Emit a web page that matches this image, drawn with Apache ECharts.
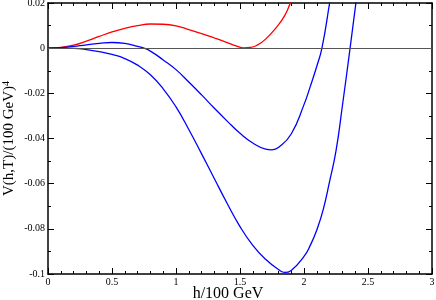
<!DOCTYPE html>
<html>
<head>
<meta charset="utf-8">
<script src="https://cdn.jsdelivr.net/npm/echarts@6/dist/echarts.min.js"></script>
<style>
html,body{margin:0;padding:0;background:#fff;}
#chart{width:436px;height:300px;}
</style>
</head>
<body>
<div id="chart"></div>
<script>
// Data
var redX   = [0, 0.1, 0.2, 0.3, 0.4, 0.5, 0.6, 0.7, 0.8, 0.9, 1.0, 1.1, 1.2, 1.3, 1.4, 1.47, 1.53, 1.58, 1.63, 1.7, 1.8, 1.85, 1.89, 1.9];
var redY   = [0, 0.0003, 0.0013, 0.0031, 0.0052, 0.0072, 0.0088, 0.0100, 0.0107, 0.0106, 0.0099, 0.0082, 0.0064, 0.0045, 0.0025, 0.0010, 0.0001, 0.0003, 0.0012, 0.0040, 0.0103, 0.0145, 0.0195, 0.021];

var blue1X = [0, 0.1, 0.2, 0.3, 0.4, 0.5, 0.6, 0.7, 0.75, 0.8, 0.9, 1.0, 1.1, 1.2, 1.3, 1.4, 1.5, 1.6, 1.7, 1.75, 1.8, 1.9, 2.0, 2.05, 2.1, 2.14, 2.2, 2.21];
var blue1Y = [0, 0.0002, 0.0008, 0.0015, 0.0021, 0.0025, 0.0021, 0.0008, 0, -0.0013, -0.0052, -0.0095, -0.0150, -0.0207, -0.0266, -0.0323, -0.0377, -0.0420, -0.0447, -0.0450, -0.0440, -0.0380, -0.0250, -0.0168, -0.0080, 0, 0.0200, 0.0240];

var blue2X = [0, 0.1, 0.2, 0.3, 0.4, 0.5, 0.6, 0.7, 0.8, 0.9, 1.0, 1.1, 1.2, 1.3, 1.4, 1.5, 1.6, 1.7, 1.8, 1.85, 1.9, 2.0, 2.05, 2.1, 2.15, 2.2, 2.25, 2.3, 2.36, 2.41];
var blue2Y = [0, 0, -0.0001, -0.0006, -0.0015, -0.0028, -0.0046, -0.0075, -0.0118, -0.0180, -0.0260, -0.0360, -0.0468, -0.0578, -0.0688, -0.0790, -0.0873, -0.0935, -0.0980, -0.0993, -0.0984, -0.0922, -0.0872, -0.0805, -0.0715, -0.0590, -0.0455, -0.0255, 0, 0.0220];

var xTicks = {min: 0, max: 3, interval: 0.5};
var yTicks = {min: -0.1, max: 0.02, interval: 0.02};

function pairs(xs, ys) { return xs.map(function (x, i) { return [x, ys[i]]; }); }

var FONT = 'Liberation Serif';
var axisLine = {show: true, onZero: false, lineStyle: {color: '#000', width: 1.5}};
var tick = {show: true, inside: true, length: 6, lineStyle: {color: '#000', width: 1}};

var chart = echarts.init(document.getElementById('chart'), null, {renderer: 'canvas'});
chart.setOption({
  animation: false,
  backgroundColor: '#fff',
  grid: {left: 48, right: 4, top: 3, bottom: 26, containLabel: false, outerBoundsMode: 'none'},
  xAxis: [{
    type: 'value', position: 'bottom', min: xTicks.min, max: xTicks.max, interval: xTicks.interval,
    axisLine: axisLine, axisTick: tick,
    minorTick: {show: true, splitNumber: 5, length: 3, lineStyle: {color: '#000', width: 1}},
    axisLabel: {show: true, color: '#000', fontFamily: FONT, fontSize: 10, margin: 3},
    splitLine: {show: false},
    name: 'h/100 GeV', nameLocation: 'middle', nameGap: 12, nameMoveOverlap: false,
    nameTextStyle: {color: '#000', fontFamily: FONT, fontSize: 16, padding: [0, 24, 0, 0]}
  }, {
    type: 'value', position: 'top', min: xTicks.min, max: xTicks.max, interval: xTicks.interval,
    axisLine: axisLine, axisTick: tick,
    minorTick: {show: true, splitNumber: 5, length: 3, lineStyle: {color: '#000', width: 1}},
    axisLabel: {show: false},
    splitLine: {show: false}
  }],
  yAxis: [{
    type: 'value', position: 'left', min: yTicks.min, max: yTicks.max, interval: yTicks.interval,
    axisLine: axisLine, axisTick: tick,
    minorTick: {show: true, splitNumber: 2, length: 3, lineStyle: {color: '#000', width: 1}},
    axisLabel: {show: true, color: '#000', fontFamily: FONT, fontSize: 10, margin: 3},
    splitLine: {show: false},
    name: 'V(h,T)/(100 GeV){sup|4}', nameLocation: 'middle', nameGap: 30, nameRotate: 90, nameMoveOverlap: false,
    nameTextStyle: {color: '#000', fontFamily: FONT, fontSize: 15,
      rich: {sup: {fontFamily: FONT, fontSize: 10, color: '#000', verticalAlign: 'top', padding: [0, 0, 7, 0]}}}
  }, {
    type: 'value', position: 'right', min: yTicks.min, max: yTicks.max, interval: yTicks.interval,
    axisLine: axisLine, axisTick: tick,
    minorTick: {show: true, splitNumber: 2, length: 3, lineStyle: {color: '#000', width: 1}},
    axisLabel: {show: false},
    splitLine: {show: false}
  }],
  series: [{
    type: 'line', xAxisIndex: 0, yAxisIndex: 0, data: pairs(redX, redY),
    showSymbol: false, smooth: 0.5, clip: true,
    lineStyle: {color: '#ff0000', width: 1.3}, z: 3,
    markLine: {silent: true, symbol: 'none', label: {show: false},
      lineStyle: {color: '#555', width: 1, type: 'solid'}, data: [{yAxis: 0}]}
  }, {
    type: 'line', xAxisIndex: 0, yAxisIndex: 0, data: pairs(blue1X, blue1Y),
    showSymbol: false, smooth: 0.5, clip: true,
    lineStyle: {color: '#0000ff', width: 1.3}, z: 3
  }, {
    type: 'line', xAxisIndex: 0, yAxisIndex: 0, data: pairs(blue2X, blue2Y),
    showSymbol: false, smooth: 0.5, clip: true,
    lineStyle: {color: '#0000ff', width: 1.3}, z: 3
  }]
});
</script>
</body>
</html>
